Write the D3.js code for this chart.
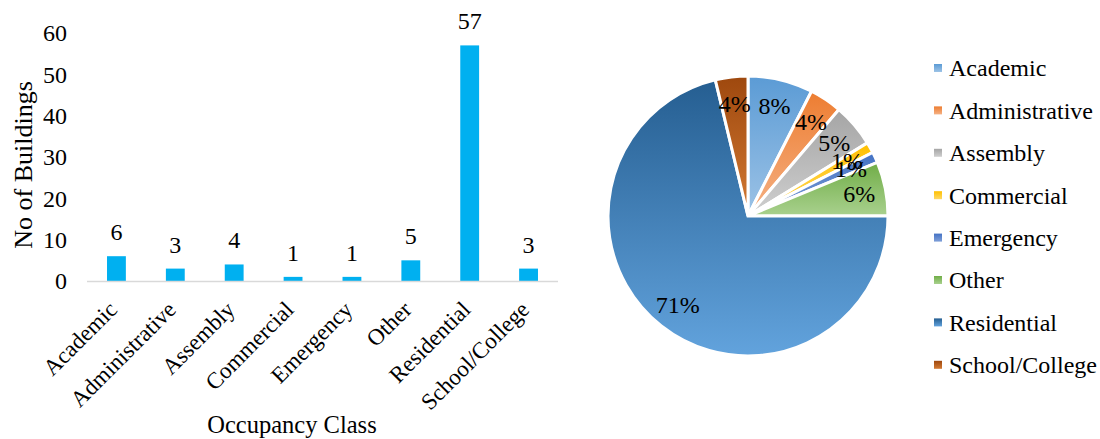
<!DOCTYPE html>
<html>
<head>
<meta charset="utf-8">
<script src="https://cdn.jsdelivr.net/npm/d3@7"></script>
<style>
  body { margin: 0; background: #fff; }
  svg { display: block; font-family: "Liberation Serif", "Times New Roman", serif; }
</style>
</head>
<body>
<svg id="chart" width="1100" height="439"></svg>
<script>
// data
const categories = ["Academic", "Administrative", "Assembly", "Commercial", "Emergency", "Other", "Residential", "School/College"];
const buildings = [6, 3, 4, 1, 1, 5, 57, 3];
const yTicks = [0, 10, 20, 30, 40, 50, 60];
// pie slice colours: top shade / bottom tint
const sliceTop = ["#5b9bd5", "#ed7d31", "#a5a5a5", "#ffc000", "#4472c4", "#70ad47", "#255e91", "#9e480e"];
const sliceBottom = ["#9dc3e6", "#f5b184", "#cfcfcf", "#ffd966", "#7f9fd8", "#a9d18e", "#62a3dd", "#d37a33"];

const svg = d3.select("#chart");
const defs = svg.append("defs");

// ---- bar chart ----
const x = d3.scaleBand()
    .domain(categories)
    .range([87, 558])
    .paddingInner(0.68)
    .paddingOuter(0.34);

const y = d3.scaleLinear()
    .domain([0, 60])
    .range([281, 33]);

const barG = svg.append("g");

barG.selectAll("rect.bar")
    .data(buildings)
    .enter().append("rect")
    .attr("class", "bar")
    .attr("x", (d, i) => x(categories[i]))
    .attr("y", d => y(d))
    .attr("width", x.bandwidth())
    .attr("height", d => y(0) - y(d))
    .attr("fill", "#00b0f0");

// x axis line
barG.append("line")
    .attr("x1", 87).attr("x2", 558)
    .attr("y1", y(0) + 0.5).attr("y2", y(0) + 0.5)
    .attr("stroke", "#d9d9d9")
    .attr("stroke-width", 1.5);

// y tick labels
barG.selectAll("text.ytick")
    .data(yTicks)
    .enter().append("text")
    .attr("class", "ytick")
    .attr("x", 67)
    .attr("y", d => y(d))
    .attr("dy", "0.35em")
    .attr("text-anchor", "end")
    .attr("font-size", 24)
    .attr("fill", "#000")
    .text(d => d);

// value labels
barG.selectAll("text.val")
    .data(buildings)
    .enter().append("text")
    .attr("class", "val")
    .attr("x", (d, i) => x(categories[i]) + x.bandwidth() / 2)
    .attr("y", d => y(d) - 16)
    .attr("text-anchor", "middle")
    .attr("font-size", 24)
    .text(d => d);

// category labels, rotated
barG.selectAll("text.cat")
    .data(categories)
    .enter().append("text")
    .attr("class", "cat")
    .attr("transform", d => "translate(" + (x(d) + x.bandwidth() / 2 + 2) + "," + 311 + ") rotate(-45)")
    .attr("text-anchor", "end")
    .attr("font-size", 23)
    .text(d => d);

// axis titles
barG.append("text")
    .attr("transform", "translate(32,165) rotate(-90)")
    .attr("text-anchor", "middle")
    .attr("font-size", 26)
    .text("No of Buildings");

barG.append("text")
    .attr("x", 292)
    .attr("y", 433)
    .attr("text-anchor", "middle")
    .attr("font-size", 24.5)
    .text("Occupancy Class");

// ---- pie chart ----
const cx = 748, cy = 216, R = 140;
const total = d3.sum(buildings);

const pie = d3.pie().sort(null).value(d => d);
const arc = d3.arc().innerRadius(0).outerRadius(R);
const labelArc = d3.arc().innerRadius(R * 0.81).outerRadius(R * 0.81);

categories.forEach((c, i) => {
    const g = defs.append("linearGradient")
        .attr("id", "grad" + i)
        .attr("x1", 0).attr("y1", 0).attr("x2", 0).attr("y2", 1);
    g.append("stop").attr("offset", "0%").attr("stop-color", sliceTop[i]);
    g.append("stop").attr("offset", "100%").attr("stop-color", sliceBottom[i]);
});

const pieG = svg.append("g").attr("transform", "translate(" + cx + "," + cy + ")");
const arcs = pie(buildings);

pieG.selectAll("path")
    .data(arcs)
    .enter().append("path")
    .attr("d", arc)
    .attr("fill", (d, i) => "url(#grad" + i + ")")
    .attr("stroke", "#fff")
    .attr("stroke-width", 3)
    .attr("stroke-linejoin", "miter");

pieG.selectAll("text")
    .data(arcs)
    .enter().append("text")
    .attr("transform", d => "translate(" + labelArc.centroid(d) + ")")
    .attr("text-anchor", "middle")
    .attr("dy", "0.35em")
    .attr("font-size", 24)
    .text(d => Math.round(d.value / total * 100) + "%");

// legend
const legG = svg.append("g");
const leg = legG.selectAll("g")
    .data(categories)
    .enter().append("g")
    .attr("transform", (d, i) => "translate(934," + (68 + i * 42.4) + ")");

leg.append("rect")
    .attr("x", 0).attr("y", -4)
    .attr("width", 8).attr("height", 8)
    .attr("fill", (d, i) => "url(#grad" + i + ")");

leg.append("text")
    .attr("x", 15)
    .attr("dy", "0.35em")
    .attr("font-size", 24)
    .text(d => d);
</script>
</body>
</html>
